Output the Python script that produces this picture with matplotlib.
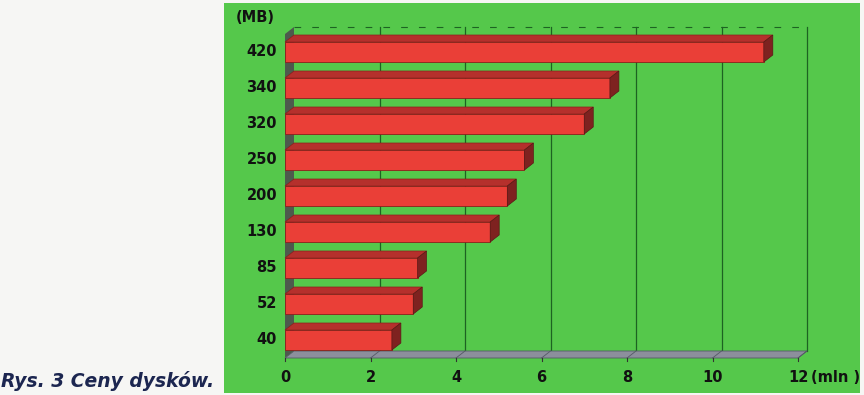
import matplotlib
matplotlib.use("Agg")
import matplotlib.pyplot as plt
from matplotlib.patches import Polygon, Rectangle

# ---- data ----
categories = ["40", "52", "85", "130", "200", "250", "320", "340", "420"]
values = [2.5, 3.0, 3.1, 4.8, 5.2, 5.6, 7.0, 7.6, 11.2]
xticks = [0, 2, 4, 6, 8, 10, 12]
xlabels = ["0", "2", "4", "6", "8", "10", "12"]
y_unit = "(MB)"
x_unit = "(mln )"
caption = "Rys. 3 Ceny dysków."

W, H = 864, 395
fig = plt.figure(figsize=(W / 100, H / 100), dpi=100)
fig.patch.set_facecolor("#f6f6f4")

# green panel
GREEN = "#55c84b"
panel = Rectangle((224 / W, 1 - 393 / H), (860 - 224) / W, (393 - 3) / H,
                  transform=fig.transFigure, facecolor=GREEN,
                  edgecolor="none", zorder=-5)
fig.add_artist(panel)

# axes: x 0..12 -> px 285..798 ; y -0.5..8.5 -> px 358..34
L, R, T, B = 285, 798, 34, 358
ax = fig.add_axes([L / W, 1 - B / H, (R - L) / W, (B - T) / H])
ax.set_zorder(2)
ax.set_xlim(0, 12)
ax.set_ylim(-0.5, len(categories) - 0.5)
ax.axis("off")

px_x = 12 / (R - L)
px_y = len(categories) / (B - T)
dx = 9 * px_x
dy = 7 * px_y
y0 = -0.5
y1 = len(categories) - 0.5
xmax = xticks[-1]

GRID = "#1d6322"
# left wall
ax.add_patch(Polygon([(0, y0), (dx, y0 + dy), (dx, y1 + dy), (0, y1)],
                     closed=True, facecolor="#4d5a4d", edgecolor="none",
                     zorder=1, clip_on=False))
# floor
ax.add_patch(Polygon([(0, y0), (xmax, y0), (xmax + dx, y0 + dy), (dx, y0 + dy)],
                     closed=True, facecolor="#8c8f9c", edgecolor="#555a66",
                     linewidth=0.6, zorder=2, clip_on=False))
# back gridlines
for t in xticks[1:]:
    ax.plot([t + dx, t + dx], [y0 + dy, y1 + dy], color=GRID, linewidth=0.9,
            zorder=1.5, clip_on=False)
    ax.plot([t, t + dx], [y0, y0 + dy], color="#555a66", linewidth=0.6,
            zorder=2.5, clip_on=False)
# top back edge (faint dashed)
ax.plot([dx, xmax + dx], [y1 + dy, y1 + dy], color=GRID, linewidth=0.8,
        linestyle=(0, (6, 10)), zorder=1.5, clip_on=False)

# bars
h = 20 * px_y
FRONT = "#ea3f37"
TOP = "#b5302c"
SIDE = "#7e2220"
for i, v in enumerate(values):
    yb, yt = i - h / 2, i + h / 2
    ax.add_patch(Polygon([(0, yb), (v, yb), (v, yt), (0, yt)], closed=True,
                         facecolor=FRONT, edgecolor="#8a1f1c", linewidth=0.6,
                         zorder=5, clip_on=False))
    ax.add_patch(Polygon([(0, yt), (v, yt), (v + dx, yt + dy), (dx, yt + dy)],
                         closed=True, facecolor=TOP, edgecolor="#8a1f1c",
                         linewidth=0.5, zorder=5, clip_on=False))
    ax.add_patch(Polygon([(v, yb), (v + dx, yb + dy), (v + dx, yt + dy), (v, yt)],
                         closed=True, facecolor=SIDE, edgecolor="#5a1816",
                         linewidth=0.5, zorder=5, clip_on=False))

# tick marks on front floor
for t in xticks:
    ax.plot([t, t], [y0, y0 - 3 * px_y], color="#333333", linewidth=0.8,
            zorder=3, clip_on=False)

FS = 10.5
# y labels
for i, c in enumerate(categories):
    ax.text(-8 * px_x, i, c, ha="right", va="center", fontsize=FS,
            fontweight="bold", color="#111111", clip_on=False)
ax.text(-10 * px_x, y1 + dy + 9 * px_y, y_unit, ha="right", va="center",
        fontsize=10.5, fontweight="bold", color="#111111", clip_on=False)
# x labels
for t, lab in zip(xticks, xlabels):
    ax.text(t, y0 - 20 * px_y, lab, ha="center", va="center", fontsize=FS,
            fontweight="bold", color="#111111", clip_on=False)
ax.text(xmax + 13 * px_x, y0 - 20 * px_y, x_unit, ha="left", va="center",
        fontsize=10.5, fontweight="bold", color="#111111", clip_on=False)

# caption
fig.text(1 / W, 1 - 381 / H, caption, ha="left", va="center", fontsize=13.5,
         fontweight="bold", fontstyle="italic", color="#1c2650")

fig.savefig("out.png", dpi=100, facecolor=fig.get_facecolor())
